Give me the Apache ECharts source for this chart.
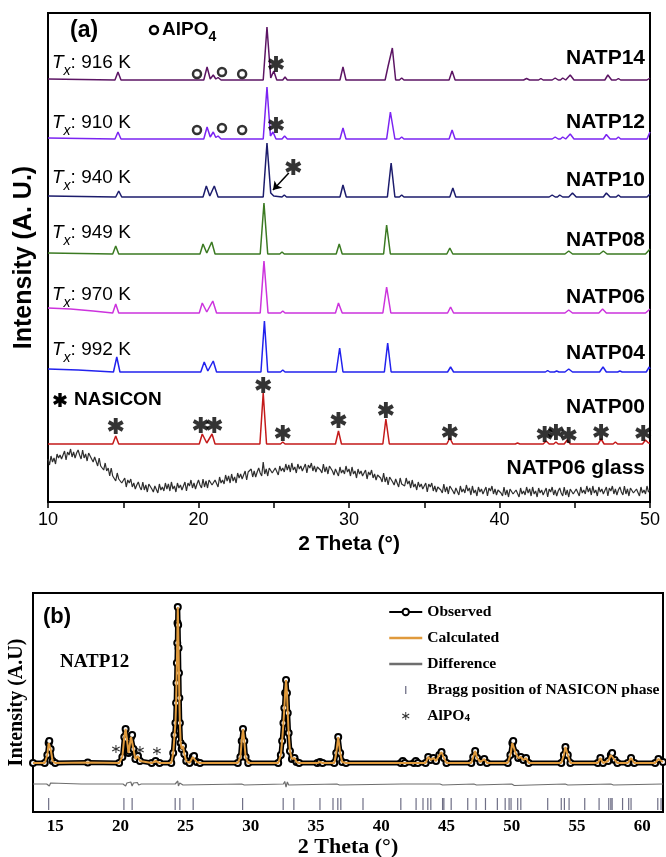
<!DOCTYPE html>
<html>
<head>
<meta charset="utf-8">
<script src="https://cdn.jsdelivr.net/npm/echarts@6/dist/echarts.min.js"></script>
<style>
  html, body { margin: 0; padding: 0; background: #fff; }
  #chart { width: 666px; height: 857px; }
</style>
</head>
<body>
<div id="chart"></div>
<script>
// ---------- panel (a): XRD patterns, [2theta, height above own baseline] ----------
const sampleNames = ['NATP14', 'NATP12', 'NATP10', 'NATP08', 'NATP06', 'NATP04', 'NATP00'];
const txLabels = ['916 K', '910 K', '940 K', '949 K', '970 K', '992 K'];
const offsets = [422, 363, 305, 248, 189, 130, 58];

const natp14 = [[10,1],[14.45,0],[14.65,8],[14.85,0],[20.35,0],[20.57,13],[20.78,1],[20.98,5],[21.15,1],[21.3,2.5],[21.5,0],
  [24.3,0],[24.55,53],[24.8,2],[25.0,9],[25.2,0],[25.6,0],[25.75,3],[25.9,0],[29.4,0],[29.6,13],[29.8,0],
  [32.4,0],[32.6,14],[32.7,12],[32.88,32],[33.1,0],[33.35,0],[33.5,2],[33.65,0],[36.65,0],[36.85,9],[37.05,0],
  [41.6,0],[41.8,1.5],[42.0,0],[42.6,0],[42.75,1.5],[42.9,0],[43.5,0],[43.7,2],[43.9,0],[44.05,0],[44.2,2],[44.4,0],
  [44.5,0],[44.7,5],[44.95,0],[47.0,0],[47.2,5],[47.45,0],[47.75,0],[47.9,1.5],[48.05,0],[49.8,0],[50,2]];
const natp12 = [[10,1],[14.45,0],[14.65,7],[14.85,0],[20.35,0],[20.57,12],[20.78,2],[20.98,7],[21.15,1.5],[21.3,3],[21.5,0],
  [24.3,0],[24.55,52],[24.78,3],[24.95,7],[25.15,0],[25.55,0],[25.72,3],[25.9,0],[29.4,0],[29.6,11],[29.8,0],
  [32.5,0],[32.75,27],[33.05,0],[33.35,0],[33.5,2],[33.65,0],[36.65,0],[36.85,9],[37.05,0],
  [43.5,0],[43.7,2],[43.9,0],[44.05,0],[44.2,2],[44.4,0],[44.5,0],[44.7,5],[44.95,0],
  [46.9,0],[47.1,4.5],[47.35,0],[47.75,0],[47.9,2],[48.05,0],[49.8,0],[50,7]];
const natp10 = [[10,1],[14.5,0],[14.7,6],[14.9,0],[20.3,0],[20.52,11],[20.75,1],[21.05,11],[21.3,0],
  [24.3,0],[24.55,54],[24.8,4],[25.0,1],[25.55,0],[25.7,2],[25.85,0],[29.4,0],[29.6,12],[29.82,0],
  [32.55,0],[32.8,34],[33.05,0],[33.35,0],[33.5,2],[33.65,0],[36.7,0],[36.9,9],[37.1,0],
  [43.3,0],[43.5,2],[43.7,0],[43.85,0],[44.0,2],[44.2,0],[44.6,0],[44.85,4],[45.1,0],
  [46.9,0],[47.1,4],[47.35,0],[47.75,0],[47.9,2],[48.05,0],[49.8,0],[50,3]];
const natp08 = [[10,1],[14.3,0],[14.5,8],[14.7,0],[20.1,0],[20.3,10],[20.55,1],[20.88,12],[21.1,0],
  [24.1,0],[24.35,51],[24.6,0],[25.4,0],[25.55,2],[25.7,0],[29.15,0],[29.35,10],[29.55,0],
  [32.3,0],[32.5,29],[32.75,0],[36.5,0],[36.7,6],[36.9,0],[44.35,0],[44.6,3],[44.85,0],
  [46.65,0],[46.9,3],[47.15,0],[49.7,0],[50,5]];
const natp06 = [[10,5],[11.5,4],[13,2],[14.3,0],[14.5,9],[14.7,0],[20.05,0],[20.25,10],[20.55,1],[20.95,12],[21.2,0],
  [24.1,0],[24.35,52],[24.62,0],[25.45,0],[25.6,2],[25.75,0],[29.1,0],[29.3,10],[29.55,0],
  [32.25,0],[32.5,26],[32.78,0],[36.55,0],[36.75,6],[36.95,0],[44.35,0],[44.6,3],[44.85,0],
  [46.6,0],[46.85,4],[47.1,0],[49.7,0],[50,4]];
const natp04 = [[10,3],[12,2],[14.35,0],[14.57,15],[14.78,0],[20.15,0],[20.38,10],[20.62,1],[20.98,11],[21.2,0],
  [24.15,0],[24.38,51],[24.6,0],[25.45,0],[25.6,2],[25.75,0],[29.15,0],[29.38,24],[29.6,0],
  [32.35,0],[32.57,29],[32.8,0],[36.55,0],[36.75,5],[36.95,0],[43.05,0],[43.2,1.5],[43.35,0],
  [43.65,0],[43.8,1],[43.95,0],[44.35,0],[44.6,3],[44.85,0],[46.65,0],[46.88,5],[47.1,0],
  [47.85,0],[48.0,1],[48.15,0],[49.75,0],[49.95,5],[50,3]];
const natp00 = [[10,0],[14.3,0],[14.5,8],[14.7,0],[20.05,0],[20.25,10],[20.55,1],[20.9,10],[21.1,0],
  [24.08,0],[24.3,51],[24.52,0],[25.45,0],[25.6,2],[25.75,0],[29.1,0],[29.3,13],[29.5,0],
  [32.25,0],[32.45,25],[32.68,0],[36.5,0],[36.7,6],[36.9,0],[41.05,0],[41.2,1],[41.35,0],
  [42.9,0],[43.1,3],[43.3,0],[43.6,0],[43.75,2],[43.9,0],[44.3,0],[44.5,4],[44.7,0],
  [46.55,0],[46.75,5],[46.95,0],[47.55,0],[47.7,2],[47.85,0],[49.5,0],[49.7,4],[49.9,1],[50,1]];
const patterns = [natp14, natp12, natp10, natp08, natp06, natp04, natp00];

// NATP06 glass, read every 0.1 deg from 10 to 50 (one row per degree)
const glassStart = 10;
const glassStep = 0.1;
const glassY = [
  43,37,46,40,44,38,48,44,47,43,  45,51,42,50,47,53,45,50,44,49,  52,47,43,52,44,48,41,49,46,43,
  40,45,45,36,44,36,38,32,39,31,  34,26,34,26,28,21,29,23,25,19,  19,24,15,22,19,23,15,19,13,17,
  20,15,12,20,12,17,10,18,16,13,  10,16,17,9,18,12,15,11,19,13,   18,11,20,13,16,10,19,14,17,12,
  14,20,11,19,16,22,14,19,13,18,  22,17,14,23,15,21,14,22,20,17,  16,22,23,15,25,19,22,18,27,21,
  26,19,28,21,25,19,29,24,28,23,  25,31,22,30,28,33,25,31,25,30,  34,29,26,40,28,33,26,34,32,29,
  28,34,35,27,36,31,34,30,38,32,  37,30,39,32,35,29,38,33,36,31,  32,38,29,37,34,39,31,36,30,35,
  37,32,29,38,30,35,28,36,34,31,  27,33,34,26,35,29,32,28,36,30,  33,26,35,28,31,24,33,28,31,26,
  26,32,23,30,27,32,24,28,22,27,  29,24,20,29,20,25,17,25,23,20,  17,23,24,15,24,18,20,16,24,18,
  21,14,22,15,18,12,20,15,18,13,  13,19,10,18,15,19,11,16,10,15,  17,12,9,18,10,15,8,16,14,11,
  8,14,15,7,16,10,13,9,17,11,     14,7,16,9,12,6,15,10,13,8,      9,15,6,14,11,16,8,13,7,12,
  14,9,6,15,7,12,5,13,11,8,       6,12,13,5,14,8,11,7,15,9,       13,6,15,8,11,5,14,9,12,7,
  8,14,5,13,10,15,7,12,6,11,      14,9,6,15,7,12,5,13,11,8,       7,13,14,6,15,9,12,8,16,10,
  14,7,16,9,12,6,15,10,13,8,      9,15,6,14,11,16,8,13,7,12,      15,10,7,16,8,13,6,14,12,9,
  7,13,14,6,15,9,12,8,16,10,      12];

// marks: [2theta, height above baseline]
const nasiconStars = [[14.5,18],[20.15,19],[21.05,19],[24.3,59],[25.6,11],[29.3,24],[32.45,34],[36.7,12],
  [43.0,10],[43.75,12],[44.6,9],[46.75,12],[49.55,11]];
const natp14Star = [[25.15,16]];
const natp12Star = [[25.15,14]];
const natp10Star = [[26.3,30]];
const alpoRings14 = [[19.9,6],[21.56,8],[22.9,6]];
const alpoRings12 = [[19.9,9],[21.56,11],[22.9,9]];

// ---------- panel (b): Rietveld fit of NATP12 ----------
const observed = [[13.3,0],[14.2,0],[14.4,8],[14.5,20],[14.55,22],[14.65,14],[14.8,2],[15.0,0],[17.5,0.5],
  [19.9,0],[20.15,6],[20.3,26],[20.4,34],[20.5,24],[20.62,10],[20.7,12],[20.82,26],[20.9,28],[21.0,14],
  [21.15,4],[21.35,7],[21.5,2],[22.4,0],[22.7,2],[23.0,0],
  [23.9,0],[24.05,10],[24.15,28],[24.22,40],[24.27,60],[24.3,80],[24.33,100],[24.36,120],[24.38,140],[24.4,156],
  [24.43,138],[24.46,115],[24.49,90],[24.52,65],[24.56,40],[24.62,20],[24.7,14],[24.8,17],[24.9,9],[25.05,2],
  [25.3,0],[25.55,6],[25.65,7],[25.85,1],[26.1,0],
  [29.0,0],[29.2,6],[29.3,22],[29.4,34],[29.5,22],[29.6,6],[29.8,0],
  [32.1,0],[32.3,8],[32.4,22],[32.5,40],[32.57,55],[32.63,70],[32.7,83],[32.77,70],[32.83,50],[32.9,30],
  [33.0,12],[33.15,4],[33.35,5],[33.5,1],[33.7,0],[35.1,0],[35.3,1],[35.5,0],
  [36.4,0],[36.55,10],[36.7,26],[36.85,10],[37.0,1],[37.3,0],
  [41.5,0],[41.65,2],[41.8,0],[42.5,0],[42.65,2],[42.8,0],[43.4,0],[43.6,6],[43.8,3],[44.0,5],[44.2,2],
  [44.45,8],[44.62,11],[44.8,5],[45.0,0],[46.9,0],[47.05,6],[47.2,12],[47.35,5],[47.6,1],[47.9,4],[48.1,0],
  [49.7,0],[49.9,8],[50.05,20],[50.12,22],[50.3,10],[50.5,5],[50.7,6],[50.9,3],[51.1,5],[51.3,0],
  [53.8,0],[54.0,8],[54.12,16],[54.3,8],[54.5,0],[56.6,0],[56.8,5],[57.0,0],[57.4,2],[57.6,8],[57.7,10],
  [57.9,3],[58.1,0],[58.9,0],[59.15,5],[59.4,0],[61.0,0],[61.25,4],[61.6,1]];
const difference = [[13.3,-21],[14.35,-21],[14.45,-19],[14.55,-23],[14.65,-20],[14.8,-21],[17.0,-21],[17.1,-20],
  [17.2,-21],[20.2,-21],[20.3,-19],[20.4,-23],[20.5,-20],[20.8,-19],[20.9,-23],[21.0,-20],[21.3,-19.5],
  [21.4,-22],[21.6,-21],[24.2,-21],[24.3,-19],[24.35,-23],[24.4,-18],[24.45,-23],[24.55,-20],[24.8,-22],
  [24.9,-21],[29.3,-21],[29.4,-19.5],[29.5,-22],[29.6,-21],[32.5,-21],[32.6,-18.5],[32.7,-24],[32.8,-19],
  [32.9,-22],[33.0,-21],[36.6,-21],[36.7,-19.5],[36.8,-22],[36.9,-21],[41.6,-21],[41.7,-20],[41.8,-21],
  [44.5,-21],[44.6,-20],[44.7,-22],[44.8,-21],[47.1,-21],[47.2,-20],[47.3,-22],[47.4,-21],[50.0,-21],
  [50.1,-19.5],[50.2,-22.5],[50.3,-21],[54.1,-21],[54.2,-20],[54.3,-22],[54.4,-21],[57.6,-21],[57.7,-20],
  [57.8,-22],[57.9,-21],[61.6,-21]];
const braggPos = [14.5,20.27,20.9,24.2,24.56,25.58,29.37,32.48,33.3,35.3,36.3,36.67,36.9,38.6,41.5,42.67,
  43.2,43.57,43.8,44.7,44.8,45.36,46.63,47.27,47.99,48.9,49.5,49.8,49.95,50.46,50.7,52.76,53.8,54.04,54.4,
  55.6,56.7,57.44,57.6,57.7,58.5,58.97,59.15,61.2,61.45];
const alpoMarks = [[19.66,14],[21.5,13],[22.8,12]];
const xLabelsB = [15, 20, 25, 30, 35, 40, 45, 50, 55, 60];

// ---------- styles ----------
const SANS = 'Liberation Sans';
const SERIF = 'Liberation Serif';
const colors = ['#5c1564', '#7b24f2', '#1c1c6c', '#3b7a22', '#cc33dd', '#2222ee', '#c41a1a'];
// asterisk made of three bars in a 10x10 box
const AST_BARS = [
  [[3.8,0],[6.2,0],[6.2,10],[3.8,10]],
  [[1.15,1.45],[9.95,6.45],[8.75,8.55],[0.05,3.55]],
  [[0.05,6.45],[8.75,1.45],[9.95,3.55],[1.15,8.55]]
];
const AST_BOLD = 'path://' + AST_BARS.map(b => 'M' + b.map(p => p.join(',')).join('L') + 'Z').join(' ');
const AST_THIN = 'path://M4.4,0L5.6,0L5.6,10L4.4,10Z M0.97,1.98L9.63,6.98L9.03,8.02L0.37,3.02Z M0.37,6.98L9.03,1.98L9.63,3.02L0.97,8.02Z';

const chart = echarts.init(document.getElementById('chart'));

const series = [];
patterns.forEach((p, i) => {
  const s = {
    type: 'line', name: sampleNames[i], xAxisIndex: 0, yAxisIndex: 0,
    data: p.map(d => [d[0], d[1] + offsets[i]]),
    showSymbol: false, symbol: 'none',
    lineStyle: { color: colors[i], width: 1.5 },
    itemStyle: { color: colors[i] },
    z: 2
  };
  if (i === 2) {
    s.markLine = {
      silent: true, symbol: ['none', 'arrow'], symbolSize: 8,
      lineStyle: { color: '#000', width: 1.5, type: 'solid' },
      label: { show: false },
      data: [[{ coord: [26.0, 329] }, { coord: [24.95, 312] }]]
    };
  }
  series.push(s);
});
series.push({
  type: 'line', name: 'glass', xAxisIndex: 0, yAxisIndex: 0,
  data: glassY.map((v, i) => [+(glassStart + i * glassStep).toFixed(1), v]),
  showSymbol: false, symbol: 'none',
  lineStyle: { color: '#2e2e2e', width: 1.2 }, z: 2
});

function starSeries(list, off) {
  return {
    type: 'scatter', xAxisIndex: 0, yAxisIndex: 0,
    data: list.map(d => [d[0], d[1] + off]),
    symbol: AST_BOLD, symbolSize: 16,
    itemStyle: { color: '#000' }, z: 5, silent: true
  };
}
series.push(starSeries(nasiconStars, offsets[6]));
series.push(starSeries(natp14Star, offsets[0]));
series.push(starSeries(natp12Star, offsets[1]));
series.push(starSeries(natp10Star, offsets[2]));
[[alpoRings14, offsets[0]], [alpoRings12, offsets[1]]].forEach(([list, off]) => {
  series.push({
    type: 'scatter', xAxisIndex: 0, yAxisIndex: 0,
    data: list.map(d => [d[0], d[1] + off]),
    symbol: 'circle', symbolSize: 8,
    itemStyle: { color: 'rgba(0,0,0,0)', borderColor: '#000', borderWidth: 2.5 },
    z: 5, silent: true
  });
});

// panel (b)
series.push({
  type: 'line', name: 'Observed', xAxisIndex: 1, yAxisIndex: 1, data: observed,
  symbol: 'emptyCircle', symbolSize: 6, showSymbol: true, showAllSymbol: true,
  lineStyle: { color: '#000', width: 5 },
  itemStyle: { color: '#000', borderColor: '#000', borderWidth: 1.5 }, z: 2
});
series.push({
  type: 'line', name: 'Calculated', xAxisIndex: 1, yAxisIndex: 1, data: observed,
  symbol: 'none', lineStyle: { color: '#e09a3c', width: 2 }, itemStyle: { color: '#e09a3c' }, z: 3
});
series.push({
  type: 'line', name: 'Difference', xAxisIndex: 1, yAxisIndex: 1, data: difference,
  symbol: 'none', lineStyle: { color: '#6e6e6e', width: 1.2 }, itemStyle: { color: '#6e6e6e' }, z: 2
});
series.push({
  type: 'scatter', name: 'Bragg position of NASICON phase', xAxisIndex: 1, yAxisIndex: 1,
  data: braggPos.map(v => [v, -41]),
  symbol: 'rect', symbolSize: [1.2, 12], itemStyle: { color: '#4a4a66' }, z: 2
});
series.push({
  type: 'scatter', name: 'AlPO4', xAxisIndex: 1, yAxisIndex: 1, data: alpoMarks,
  symbol: AST_THIN, symbolSize: 8, itemStyle: { color: '#000' }, z: 4
});

function txt(text, x, y, font, extra) {
  return {
    type: 'text', z: 10, silent: true,
    style: Object.assign({
      text: text, x: x, y: y, font: font, fill: '#000',
      align: 'left', verticalAlign: 'middle', textAlign: 'left', textVerticalAlign: 'middle'
    }, extra || {})
  };
}

const graphics = [];
graphics.push(txt('(a)', 70, 31, 'bold 23px "' + SANS + '"'));
graphics.push({ type: 'circle', z: 10, silent: true, shape: { cx: 154, cy: 30, r: 4 },
  style: { fill: 'none', stroke: '#000', lineWidth: 2.5 } });
graphics.push(txt('{m|AlPO}{s|4}', 162, 30, 'bold 19px "' + SANS + '"', {
  rich: {
    m: { fontFamily: SANS, fontWeight: 'bold', fontSize: 19, lineHeight: 28 },
    s: { fontFamily: SANS, fontWeight: 'bold', fontSize: 14, lineHeight: 16, verticalAlign: 'bottom' }
  }
}));
const txY = [63, 123, 178, 233, 295, 350];
txLabels.forEach((t, i) => {
  graphics.push(txt('{i|T}{s|x}{n|: ' + t + '}', 52, txY[i], '19px "' + SANS + '"', {
    rich: {
      i: { fontFamily: SANS, fontSize: 19, fontStyle: 'italic', lineHeight: 30 },
      s: { fontFamily: SANS, fontSize: 14, fontStyle: 'italic', lineHeight: 14, verticalAlign: 'bottom' },
      n: { fontFamily: SANS, fontSize: 19, lineHeight: 30 }
    }
  }));
});
const nameY = [58, 122, 180, 240, 297, 353, 407];
sampleNames.forEach((n, i) => {
  graphics.push(txt(n, 645, nameY[i], 'bold 21px "' + SANS + '"', { align: 'right', textAlign: 'right' }));
});
graphics.push(txt('NATP06 glass', 645, 468, 'bold 21px "' + SANS + '"', { align: 'right', textAlign: 'right' }));
// star in front of the "NASICON" key, drawn as three bars
const keyStar = { x: 53, y: 393, size: 14 };
AST_BARS.forEach(bar => {
  graphics.push({ type: 'polygon', z: 10, silent: true,
    shape: { points: bar.map(p => [keyStar.x + p[0] * keyStar.size / 10, keyStar.y + p[1] * keyStar.size / 10]) },
    style: { fill: '#000' } });
});
graphics.push(txt('NASICON', 74, 400, 'bold 19px "' + SANS + '"'));
graphics.push(txt('(b)', 43, 617, 'bold 22px "' + SANS + '"'));
graphics.push(txt('NATP12', 60, 662, 'bold 19px "' + SERIF + '"'));

const option = {
  animation: false,
  backgroundColor: '#fff',
  grid: [
    { left: 48, top: 13, width: 602, height: 489, outerBoundsMode: 'none', containLabel: false,
      show: true, borderColor: '#000', borderWidth: 2, backgroundColor: 'transparent' },
    { left: 33, top: 593, width: 630, height: 219, outerBoundsMode: 'none', containLabel: false,
      show: true, borderColor: '#000', borderWidth: 2, backgroundColor: 'transparent' }
  ],
  xAxis: [
    {
      gridIndex: 0, type: 'value', min: 10, max: 50, interval: 5,
      axisLine: { show: false },
      axisTick: { show: true, length: 6, lineStyle: { color: '#000', width: 1.5 } },
      axisLabel: { color: '#000', fontSize: 18, fontFamily: SANS, margin: 9,
        formatter: v => (v % 10 === 0 ? String(v) : '') },
      splitLine: { show: false },
      name: '2 Theta (°)', nameLocation: 'middle', nameGap: 32,
      nameTextStyle: { color: '#000', fontSize: 21, fontWeight: 'bold', fontFamily: SANS }
    },
    {
      gridIndex: 1, type: 'value', min: 13.3, max: 61.6,
      axisLine: { show: false }, axisTick: { show: false },
      axisLabel: { customValues: xLabelsB, color: '#000', fontSize: 17, fontWeight: 'bold', fontFamily: SERIF, margin: 6 },
      splitLine: { show: false },
      name: '2 Theta (°)', nameLocation: 'middle', nameGap: 22,
      nameTextStyle: { color: '#000', fontSize: 22, fontWeight: 'bold', fontFamily: SERIF }
    }
  ],
  yAxis: [
    {
      gridIndex: 0, type: 'value', min: 0, max: 489,
      axisLine: { show: false }, axisTick: { show: false }, axisLabel: { show: false }, splitLine: { show: false },
      name: 'Intensity (A. U.)', nameLocation: 'middle', nameGap: 11,
      nameTextStyle: { color: '#000', fontSize: 25, fontWeight: 'bold', fontFamily: SANS }
    },
    {
      gridIndex: 1, type: 'value', min: -49, max: 170,
      axisLine: { show: false }, axisTick: { show: false }, axisLabel: { show: false }, splitLine: { show: false },
      name: 'Intensity (A.U)', nameLocation: 'middle', nameGap: 6,
      nameTextStyle: { color: '#000', fontSize: 20, fontWeight: 'bold', fontFamily: SERIF }
    }
  ],
  legend: {
    orient: 'vertical', left: 383, top: 599, padding: 5,
    itemWidth: 33, itemHeight: 8, itemGap: 10,
    selectedMode: false,
    textStyle: {
      fontFamily: SERIF, fontWeight: 'bold', fontSize: 15.6, color: '#000',
      rich: { s: { fontFamily: SERIF, fontWeight: 'bold', fontSize: 11, verticalAlign: 'bottom', lineHeight: 12 } }
    },
    formatter: n => (n === 'AlPO4' ? 'AlPO{s|4}' : n),
    data: [
      { name: 'Observed', lineStyle: { width: 2 } },
      { name: 'Calculated', lineStyle: { width: 2.5 }, itemStyle: { opacity: 0 } },
      { name: 'Difference', lineStyle: { width: 2.5 }, itemStyle: { opacity: 0 } },
      { name: 'Bragg position of NASICON phase', icon: 'path://M0,0h1.6v10h-1.6Z' },
      { name: 'AlPO4', icon: AST_THIN }
    ]
  },
  graphic: { elements: graphics },
  series: series
};

chart.setOption(option);
</script>
</body>
</html>
